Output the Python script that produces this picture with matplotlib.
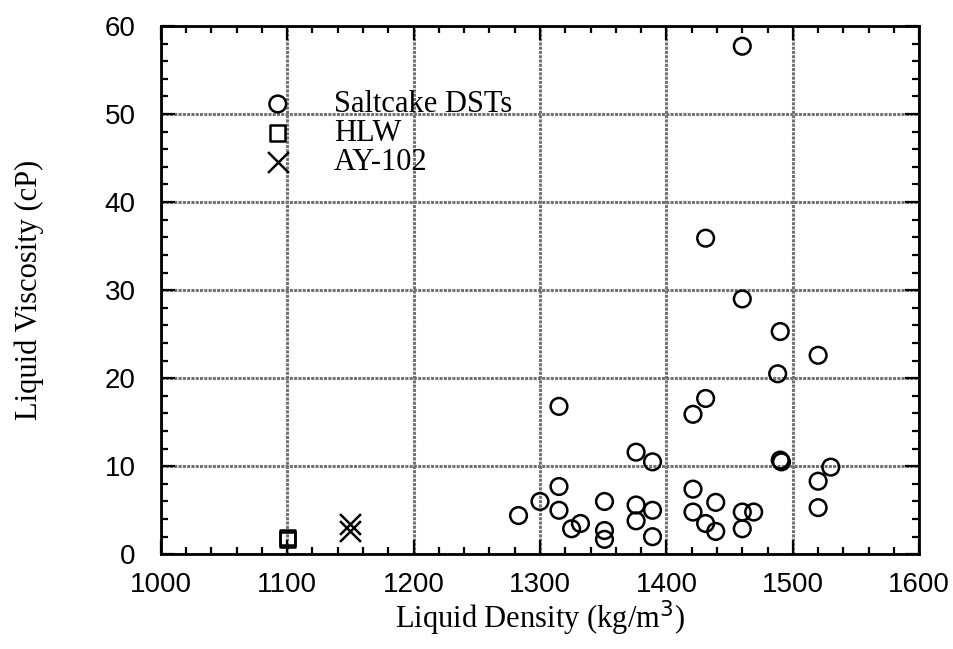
import numpy as np
import matplotlib.pyplot as plt
from matplotlib.ticker import MultipleLocator

# Saltcake DSTs
salt_rho = [1460, 1431, 1460, 1490, 1520, 1488, 1431, 1421, 1315, 1376, 1389,
            1490, 1491, 1530, 1520, 1421, 1315, 1300, 1351, 1376, 1389, 1439,
            1520, 1315, 1421, 1460, 1469, 1283, 1376, 1332, 1431, 1325, 1460,
            1351, 1439, 1389, 1351]
salt_mu = [57.7, 35.9, 29.0, 25.3, 22.6, 20.5, 17.7, 15.9, 16.8, 11.6, 10.5,
           10.7, 10.5, 9.9, 8.3, 7.4, 7.7, 6.0, 6.0, 5.6, 5.0, 5.9,
           5.3, 5.0, 4.8, 4.8, 4.8, 4.4, 3.8, 3.5, 3.5, 2.9, 2.9,
           2.7, 2.6, 2.0, 1.7]
# HLW
hlw_rho = [1100, 1100]
hlw_mu = [1.7, 1.9]
# AY-102
ay_rho = [1150, 1150]
ay_mu = [3.4, 2.6]

plt.rcParams['font.family'] = 'Liberation Serif'

fig = plt.figure(figsize=(9.54, 6.49), dpi=100)
ax = fig.add_axes([0.1685, 0.1459, 0.7951, 0.8141])

ax.scatter(salt_rho, salt_mu, s=12**2, facecolors='none', edgecolors='black',
           linewidths=1.8, label='Saltcake DSTs', zorder=3)
ax.scatter(hlw_rho, hlw_mu, marker='s', s=11**2, facecolors='none', edgecolors='black',
           linewidths=1.8, label='HLW', zorder=3)
ax.scatter(ay_rho, ay_mu, marker='x', s=15**2, color='black',
           linewidths=1.8, label='AY-102', zorder=3)

ax.set_xlim(1000, 1600)
ax.set_ylim(0, 60)
ax.xaxis.set_major_locator(MultipleLocator(100))
ax.xaxis.set_minor_locator(MultipleLocator(20))
ax.yaxis.set_major_locator(MultipleLocator(10))
ax.yaxis.set_minor_locator(MultipleLocator(2))
ax.tick_params(which='both', direction='in', top=True, right=True, width=1.6)
ax.tick_params(which='major', length=10, labelsize=20)
ax.tick_params(which='minor', length=5)
ax.tick_params(axis='x', which='major', pad=13)
ax.tick_params(axis='y', which='major', pad=18)
for lab in ax.get_xticklabels() + ax.get_yticklabels():
    lab.set_family('Liberation Sans')
for sp in ax.spines.values():
    sp.set_linewidth(2)

# grey halftone-like grid
ax.grid(True, which='major', color='0.45', linewidth=2.2, linestyle=(0, (1, 0.4)))
ax.set_axisbelow(True)

ax.set_xlabel('Liquid Density (kg/m$^3$)', fontsize=22, labelpad=0)
ax.set_ylabel('Liquid Viscosity (cP)', fontsize=22, labelpad=44)

ax.legend(loc='upper left', bbox_to_anchor=(262.5 / 954, 1 - 90 / 649),
          bbox_transform=fig.transFigure, frameon=False, fontsize=22,
          handlelength=1.0, handletextpad=1.34, borderpad=0, borderaxespad=0,
          labelspacing=0.0)

fig.savefig('out.png', dpi=100)
